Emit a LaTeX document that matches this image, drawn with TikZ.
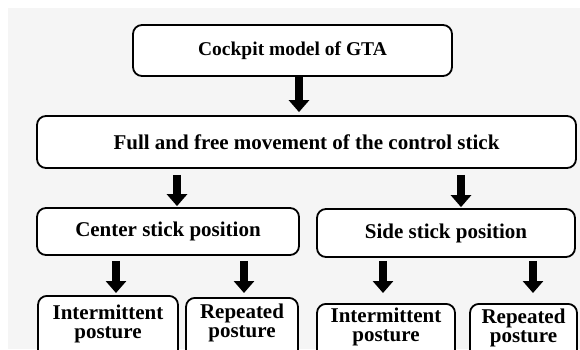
\documentclass[tikz,border=0pt]{standalone}
\usepackage{fontspec}
\setmainfont{Liberation Serif}
\usetikzlibrary{arrows.meta}
\begin{document}
\begin{tikzpicture}[x=1pt,y=-1pt,
  box/.style={draw=black, line width=1.8pt, rounded corners=9pt, fill=white, inner sep=0pt},
  lbl/.style={font=\fontsize{21}{19}\selectfont\bfseries, align=center, inner sep=0pt},
  blockarrow/.style={line width=8pt, -{Triangle[width=20pt,length=12pt]}}]
\useasboundingbox (0,0) rectangle (580,349);
\clip (0,0) rectangle (580,349);
% light grey page area
\fill[black!4] (8,8) rectangle (580,349);

% upper levels
\node[box, lbl, font=\fontsize{19.5}{19}\selectfont\bfseries, minimum width=319pt, minimum height=51pt] (top) at (292.5,50.5) {Cockpit model of GTA};
\node[box, lbl, minimum width=539pt, minimum height=52pt] (full) at (306.5,142) {Full and free movement of the control stick};
\node[box, lbl, minimum width=262pt, minimum height=47pt] (center) at (168,231.5) {Center stick position};
\node[box, lbl, minimum width=258pt, minimum height=48pt] (side) at (446,233) {Side stick position};

% posture boxes (run past the lower edge)
\node[box, anchor=north, minimum width=140pt, minimum height=70pt] (int1) at (108,295) {};
\node[box, anchor=north, minimum width=112pt, minimum height=70pt] (rep1) at (242,297) {};
\node[box, anchor=north, minimum width=138pt, minimum height=70pt] (int2) at (386,303) {};
\node[box, anchor=north, minimum width=107pt, minimum height=70pt] (rep2) at (523.5,303) {};
\node[lbl] (int1t) at (108,323.5) {Intermittent\\posture};
\node[lbl] (rep1t) at (242,323) {Repeated\\posture};
\node[lbl] (int2t) at (386,327) {Intermittent\\posture};
\node[lbl] (rep2t) at (523.5,328) {Repeated\\posture};

% block arrows
\draw[blockarrow, shorten >=3pt] (299,0 |- top.south) -- (299,0 |- full.north);
\draw[blockarrow, shorten <=6pt, shorten >=1pt] (177,0 |- full.south) -- (177,0 |- center.north);
\draw[blockarrow, shorten <=6pt, shorten >=1pt] (461,0 |- full.south) -- (461,0 |- side.north);
\draw[blockarrow, shorten <=5pt, shorten >=2pt] (116,0 |- center.south) -- (116,0 |- int1.north);
\draw[blockarrow, shorten <=5pt, shorten >=4pt] (244,0 |- center.south) -- (244,0 |- rep1.north);
\draw[blockarrow, shorten <=3pt, shorten >=10pt] (383,0 |- side.south) -- (383,0 |- int2.north);
\draw[blockarrow, shorten <=3pt, shorten >=10pt] (533,0 |- side.south) -- (533,0 |- rep2.north);
\end{tikzpicture}
\end{document}
